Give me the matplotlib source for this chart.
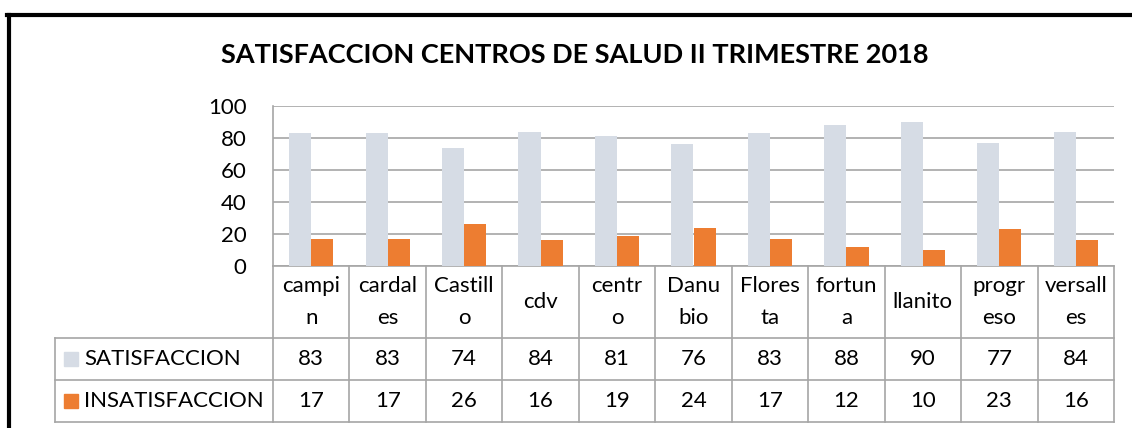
import matplotlib
matplotlib.use("Agg")
import matplotlib.pyplot as plt
import matplotlib.transforms as mtransforms
import numpy as np

# Data
centros = ["campi\nn", "cardal\nes", "Castill\no", "cdv", "centr\no", "Danu\nbio",
           "Flores\nta", "fortun\na", "llanito", "progr\neso", "versall\nes"]
satisfaccion = [83, 83, 74, 84, 81, 76, 83, 88, 90, 77, 84]
insatisfaccion = [17, 17, 26, 16, 19, 24, 17, 12, 10, 23, 16]
series_names = ["SATISFACCION", "INSATISFACCION"]
y_ticks = [0, 20, 40, 60, 80, 100]

c_sat = "#D6DCE5"
c_ins = "#ED7D31"
grid_c = "#A6A6A6"
fs = 16

plt.rcParams["font.family"] = ["Lato", "DejaVu Sans"]

W, H = 1132, 428
fig = plt.figure(figsize=(W / 100, H / 100), dpi=100)

def fy(py):
    return 1 - py / H

def fx(px):
    return px / W

left, right, top, bottom = 273, 1114, 106, 266
ax = fig.add_axes([fx(left), fy(bottom), fx(right) - fx(left), fy(top) - fy(bottom)])

n = len(centros)
x = np.arange(n)
bw = 0.29
ax.bar(x - bw / 2, satisfaccion, bw, color=c_sat, zorder=3)
ax.bar(x + bw / 2, insatisfaccion, bw, color=c_ins, zorder=3)

ax.set_xlim(-0.5, n - 0.5)
ax.set_ylim(0, 100)
ax.set_yticks(y_ticks)
ax.set_yticklabels([str(v) for v in y_ticks], fontsize=fs)
ax.tick_params(axis="y", length=0, pad=19)
ax.set_xticks([])
ax.yaxis.grid(True, color=grid_c, linewidth=1.2, zorder=0)
for s in ["top", "right", "bottom"]:
    ax.spines[s].set_visible(False)
ax.spines["left"].set_color(grid_c)
ax.spines["left"].set_linewidth(1.2)

# data table below the axis: x in data units, y in figure fraction
tr = mtransforms.blended_transform_factory(ax.transData, fig.transFigure)
rows_y = [266, 338, 380, 422]
line_kw = dict(color=grid_c, linewidth=1.2, transform=tr, clip_on=False)
for py in rows_y:
    ax.plot([-0.5, n - 0.5], [fy(py), fy(py)], **line_kw)
for b in np.arange(-0.5, n, 1.0):
    ax.plot([b, b], [fy(266), fy(422)], **line_kw)

# legend column
for py in rows_y[1:]:
    fig.add_artist(plt.Line2D([fx(55), fx(left)], [fy(py), fy(py)], color=grid_c, lw=1.2))
fig.add_artist(plt.Line2D([fx(55), fx(55)], [fy(338), fy(422)], color=grid_c, lw=1.2))

for i, lab in enumerate(centros):
    ax.text(i, fy(302), lab, transform=tr, ha="center", va="center",
            fontsize=fs, linespacing=1.7)
    ax.text(i, fy(359), str(satisfaccion[i]), transform=tr, ha="center",
            va="center", fontsize=fs)
    ax.text(i, fy(401), str(insatisfaccion[i]), transform=tr, ha="center",
            va="center", fontsize=fs)

for name, col, py in zip(series_names, [c_sat, c_ins], [359, 401]):
    fig.add_artist(plt.Rectangle((fx(64), fy(py + 7)), fx(14), 14 / H,
                                 color=col))
    fig.text(fx(84), fy(py), name, ha="left", va="center", fontsize=fs)

fig.text(fx(575), fy(55), "SATISFACCION CENTROS DE SALUD II TRIMESTRE 2018",
         ha="center", va="center", fontsize=19.5, fontweight="bold")

# outer frame
fig.add_artist(plt.Line2D([fx(7), 1], [fy(15), fy(15)], color="black", lw=3))
fig.add_artist(plt.Line2D([fx(9), fx(9)], [fy(15), 0], color="black", lw=3))

fig.savefig("out.png", dpi=100)
plt.close()
